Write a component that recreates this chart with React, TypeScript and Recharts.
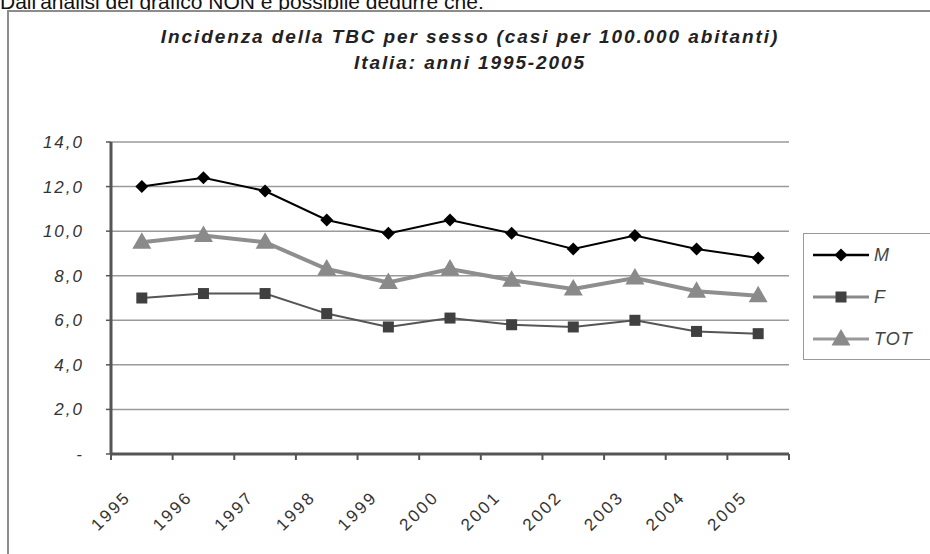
import { LineChart, Line, XAxis, YAxis, CartesianGrid } from 'recharts';

const years = ['1995', '1996', '1997', '1998', '1999', '2000', '2001', '2002', '2003', '2004', '2005'];
const maschi = [12.0, 12.4, 11.8, 10.5, 9.9, 10.5, 9.9, 9.2, 9.8, 9.2, 8.8];
const femmine = [7.0, 7.2, 7.2, 6.3, 5.7, 6.1, 5.8, 5.7, 6.0, 5.5, 5.4];
const totale = [9.5, 9.8, 9.5, 8.3, 7.7, 8.3, 7.8, 7.4, 7.9, 7.3, 7.1];
const yTicks = [0, 2, 4, 6, 8, 10, 12, 14];

const data = years.map((year, i) => ({ year, M: maschi[i], F: femmine[i], TOT: totale[i] }));

const FONT = '"Liberation Sans", Arial, sans-serif';
const CHART_W = 930;
const CHART_H = 554;
const PLOT_W = 678;
const BAND = PLOT_W / years.length;

const fmtY = (v: number) => (v === 0 ? '-' : v.toFixed(1).replace('.', ','));

const Diamond = ({ cx, cy }: any) => (
  <path d={`M${cx},${cy - 6.5}L${cx + 6.5},${cy}L${cx},${cy + 6.5}L${cx - 6.5},${cy}Z`} fill="#000" />
);
const Square = ({ cx, cy }: any) => <rect x={cx - 5.5} y={cy - 5.5} width={11} height={11} fill="#404040" />;
const Triangle = ({ cx, cy }: any) => (
  <path d={`M${cx},${cy - 10}L${cx + 9.5},${cy + 6.5}L${cx - 9.5},${cy + 6.5}Z`} fill="#8a8a8a" />
);

const YearTick = (props: any) => {
  const { x, y, payload, index } = props;
  const ax = x - 10;
  const ay = y + 44;
  return (
    <g>
      <line x1={x - BAND / 2} x2={x - BAND / 2} y1={y} y2={y + 6} stroke="#555" strokeWidth={2} />
      {index === years.length - 1 && (
        <line x1={x + BAND / 2} x2={x + BAND / 2} y1={y} y2={y + 6} stroke="#555" strokeWidth={2} />
      )}
      <text
        x={ax}
        y={ay}
        textAnchor="end"
        transform={`rotate(-45 ${ax} ${ay})`}
        fontSize={17}
        letterSpacing={2.5}
        fill="#333"
        fontFamily={FONT}
      >
        {payload.value}
      </text>
    </g>
  );
};

const ValueTick = (props: any) => {
  const { x, y, payload } = props;
  return (
    <text x={x} y={y + 6} textAnchor="end" fontSize={17} fontStyle="italic" letterSpacing={2} fill="#333" fontFamily={FONT}>
      {fmtY(payload.value)}
    </text>
  );
};

const legendItems = [
  { name: 'M', line: '#000', width: 2.5, Mark: Diamond },
  { name: 'F', line: '#8a8a8a', width: 3, Mark: Square },
  { name: 'TOT', line: '#9a9a9a', width: 3, Mark: Triangle },
];

export default function App() {
  return (
    <div
      style={{
        position: 'absolute',
        left: 0,
        top: 0,
        width: CHART_W,
        height: CHART_H,
        overflow: 'hidden',
        background: '#fff',
        fontFamily: FONT,
      }}
    >
      <div style={{ position: 'absolute', left: 0, top: -9, fontSize: 21, lineHeight: '21px', color: '#111', whiteSpace: 'nowrap' }}>
        Dall'analisi del grafico NON è possibile dedurre che:
      </div>
      <div
        style={{
          position: 'absolute',
          left: 7,
          top: 10,
          width: 960,
          height: 600,
          border: '2px solid #8c8c8c',
          boxSizing: 'border-box',
          background: '#fff',
        }}
      />
      <div
        style={{
          position: 'absolute',
          left: 0,
          width: 940,
          top: 24,
          textAlign: 'center',
          fontSize: 19,
          lineHeight: '26px',
          fontWeight: 'bold',
          fontStyle: 'italic',
          letterSpacing: 1.9,
          color: '#222',
        }}
      >
        <div>Incidenza della TBC per sesso (casi per 100.000 abitanti)</div>
        <div>Italia: anni 1995-2005</div>
      </div>
      <div style={{ position: 'absolute', left: 0, top: 0 }}>
        <LineChart width={CHART_W} height={CHART_H} data={data} margin={{ top: 142, right: 141, bottom: 0, left: 51 }}>
          <CartesianGrid vertical={false} stroke="#9a9a9a" strokeWidth={1.5} />
          <XAxis
            dataKey="year"
            scale="band"
            height={100}
            interval={0}
            tickLine={false}
            tickSize={0}
            tickMargin={0}
            axisLine={{ stroke: '#555', strokeWidth: 3 }}
            tick={<YearTick />}
          />
          <YAxis
            width={60}
            domain={[0, 14]}
            ticks={yTicks}
            interval={0}
            tickSize={5}
            tickMargin={22}
            tickLine={{ stroke: '#555', strokeWidth: 1.5 }}
            axisLine={{ stroke: '#555', strokeWidth: 3 }}
            tick={<ValueTick />}
          />
          <YAxis yAxisId="bordo" orientation="right" width={0} domain={[0, 14]} tick={false} tickLine={false} axisLine={{ stroke: '#8c8c8c', strokeWidth: 2 }} />
          <Line
            dataKey="M"
            stroke="#000"
            strokeWidth={2}
            isAnimationActive={false}
            dot={(p: any) => <Diamond key={`m${p.index}`} cx={p.cx} cy={p.cy} />}
            activeDot={false}
          />
          <Line
            dataKey="F"
            stroke="#555"
            strokeWidth={2}
            isAnimationActive={false}
            dot={(p: any) => <Square key={`f${p.index}`} cx={p.cx} cy={p.cy} />}
            activeDot={false}
          />
          <Line
            dataKey="TOT"
            stroke="#8e8e8e"
            strokeWidth={4}
            isAnimationActive={false}
            dot={(p: any) => <Triangle key={`t${p.index}`} cx={p.cx} cy={p.cy} />}
            activeDot={false}
          />
        </LineChart>
      </div>
      <div
        style={{
          position: 'absolute',
          left: 803,
          top: 233,
          width: 140,
          height: 127,
          border: '1.5px solid #9a9a9a',
          boxSizing: 'border-box',
          background: '#fff',
        }}
      >
        {legendItems.map((it, i) => (
          <div key={it.name} style={{ position: 'absolute', left: 7, top: 9 + i * 42, height: 24, display: 'flex', alignItems: 'center' }}>
            <svg width={60} height={24}>
              <line x1={2} x2={58} y1={12} y2={12} stroke={it.line} strokeWidth={it.width} />
              <it.Mark cx={30} cy={12} />
            </svg>
            <span style={{ marginLeft: 3, fontSize: 18, fontStyle: 'italic', color: '#444', letterSpacing: 1 }}>{it.name}</span>
          </div>
        ))}
      </div>
    </div>
  );
}
